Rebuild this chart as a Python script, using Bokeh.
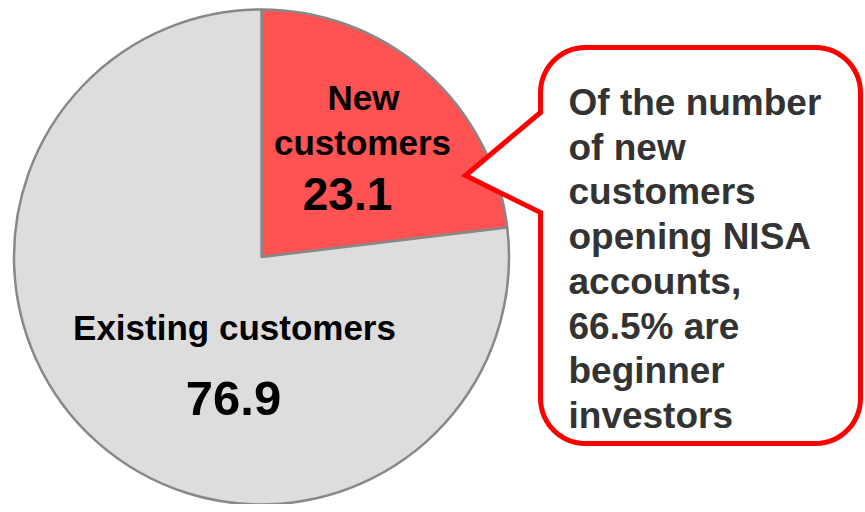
import numpy as np
from bokeh.plotting import figure
from bokeh.models import Range1d, ColumnDataSource
from bokeh.core.properties import value
from bokeh.embed import file_html
from bokeh.resources import INLINE

# ---- data ----
segments = ["New customers", "Existing customers"]
shares = [23.1, 76.9]
colors = ["#FF5252", "#DDDDDD"]
callout_lines = ["Of the number", "of new", "customers", "opening NISA",
                 "accounts,", "66.5% are", "beginner", "investors"]

# ---- layout (pixel space of the plot, y flipped: data y = 512 - page y) ----
W, H = 864, 504
p = figure(width=W, height=H, x_range=Range1d(0, W), y_range=Range1d(512 - H, 512),
           output_backend="svg", toolbar_location=None, min_border=0,
           x_axis_type=None, y_axis_type=None)
p.grid.visible = False
p.outline_line_color = None
p.background_fill_color = "white"
p.border_fill_color = "white"

def Y(page_y):
    return 512 - page_y

# pie
cx, cy, R = 261, Y(256.5), 247.5
vals = np.array(shares, dtype=float)
frac = vals / vals.sum()
ends_cum = np.cumsum(frac)
starts_cum = ends_cum - frac
src = ColumnDataSource(dict(
    name=segments,
    start=np.pi / 2 - 2 * np.pi * starts_cum,
    end=np.pi / 2 - 2 * np.pi * ends_cum,
    color=colors,
))
p.wedge(x=cx, y=cy, radius=R, start_angle="start", end_angle="end",
        direction="clock", fill_color="color", line_color="#888888",
        line_width=2.5, source=src)

FONT = value("Liberation Sans")

# pie labels
p.text(x=[363, 362], y=[Y(97), Y(142)], text=["New", "customers"],
       text_font=FONT, text_font_style="bold", text_font_size="35px",
       text_color="black", text_align="center", text_baseline="alphabetic")
p.text(x=[347], y=[Y(193)], text=[f"{shares[0]:.1f}"],
       text_font=FONT, text_font_style="bold", text_font_size="46px",
       text_color="black", text_align="center", text_baseline="alphabetic")
p.text(x=[234], y=[Y(327)], text=["Existing customers"],
       text_font=FONT, text_font_style="bold", text_font_size="35px",
       text_color="black", text_align="center", text_baseline="alphabetic")
p.text(x=[233], y=[Y(398)], text=[f"{shares[1]:.1f}"],
       text_font=FONT, text_font_style="bold", text_font_size="49px",
       text_color="black", text_align="center", text_baseline="alphabetic")

# callout bubble
l, r, t, b, rad = 540, 860, Y(47), Y(443), 45
j_hi, j_lo = Y(112), Y(212)
tip = (465, Y(175))

def arc(xc, yc, a0, a1, n=16):
    a = np.radians(np.linspace(a0, a1, n))
    return list(xc + rad * np.cos(a)), list(yc + rad * np.sin(a))

xs, ys = [], []
for seg in [arc(r - rad, t - rad, 90, 0), arc(r - rad, b + rad, 0, -90),
            arc(l + rad, b + rad, -90, -180)]:
    xs += seg[0]; ys += seg[1]
xs += [l, tip[0], l]
ys += [j_lo, tip[1], j_hi]
sx, sy = arc(l + rad, t - rad, 180, 90)
xs += sx; ys += sy
p.patch(xs, ys, fill_color="white", line_color="#FF0000", line_width=5,
        line_join="miter")

# callout text
base0, step = Y(102), 44.7
p.text(x=[568] * len(callout_lines),
       y=[base0 - i * step for i in range(len(callout_lines))],
       text=callout_lines, text_font=FONT, text_font_style="bold",
       text_font_size="37px", text_color="#333333", text_align="left",
       text_baseline="alphabetic")

open("out.html", "w").write(file_html(p, INLINE))
